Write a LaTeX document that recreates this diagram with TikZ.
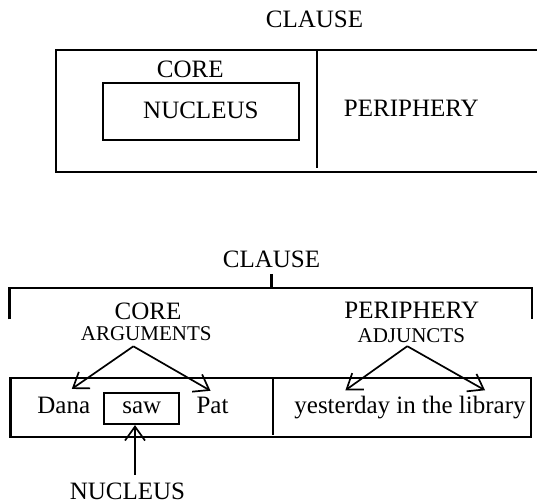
\documentclass[tikz,border=0pt]{standalone}
\usepackage{fontspec}
\setmainfont{Liberation Serif}
\usetikzlibrary{arrows.meta, positioning, calc}

\begin{document}
\begin{tikzpicture}[
    x=1pt, y=-1pt,
    lbl/.style={anchor=base, inner sep=3pt, font=\fontsize{25}{30}\selectfont},
    sublbl/.style={lbl, font=\fontsize{21}{25}\selectfont},
    frame/.style={draw=black, line width=2.2pt},
    link/.style={draw=black, line width=1.7pt, -{Straight Barb[length=14pt, width=20pt, line width=1.7pt]}}
]
    \useasboundingbox (0,0) rectangle (537,503);

    \node (clausetop) [lbl] at (314.5,28) {CLAUSE};
    \draw[frame] (545,50) -- (55.7,50) -- (55.7,172.3) -- (545,172.3);
    \draw[frame] (316.7,50) -- (316.7,168);
    \node (coretop) [lbl] at (190.3,77.3) {CORE};
    \node (nuctop) [lbl, frame, inner sep=0pt, minimum width=196.3pt, text height=35.6pt, text depth=21.7pt] at (200.85,118.3) {NUCLEUS};
    \node (peritop) [lbl] at (411.3,116) {PERIPHERY};

    \node (clause) [lbl] at (271.5,267.4) {CLAUSE};
    \coordinate (brleft) at (9.5,288.3);
    \coordinate (brright) at (531.7,288.3);
    \draw[frame] ([yshift=-3pt]clause.south) -- (clause.south |- brleft);
    \draw[frame] ($(brleft)+(0,31)$) -- (brleft) -- (brright) -- ($(brright)+(0,31)$);

    \node (core) [lbl] at (148,319.7) {CORE};
    \node (args) [sublbl] at (146.2,340.9) {ARGUMENTS};
    \node (peri) [lbl] at (411.8,318.5) {PERIPHERY};
    \node (adj) [sublbl] at (411.3,342.8) {ADJUNCTS};

    \draw[frame] (10.5,378.3) rectangle (530.7,437);
    \draw[frame] (272.7,378.3) -- (272.7,435);

    \node (dana) [lbl] at (63.8,413.3) {Dana};
    \node (saw) [lbl, frame, inner sep=0pt, minimum width=75pt, text height=20pt, text depth=10.7pt] at (141.8,413.3) {saw};
    \node (pat) [lbl] at (212.5,413.3) {Pat};
    \node (yest) [lbl] at (410,413.3) {yesterday in the library};
    \node (nucleus) [lbl, inner sep=1pt] at (127.5,499) {NUCLEUS};

    \draw[link] ([xshift=-12.8pt,yshift=-2pt]args.south) -- ([xshift=8pt,yshift=4.8pt]dana.north);
    \draw[link] ([xshift=-12.8pt,yshift=-2pt]args.south) -- ([xshift=-2pt,yshift=3pt]pat.north);
    \draw[link] ([xshift=-4pt]adj.south) -- ([xshift=-64.6pt,yshift=2.5pt]yest.north);
    \draw[link] ([xshift=-4pt]adj.south) -- ([xshift=75pt,yshift=2.5pt]yest.north);
    \draw[link] ([xshift=7.5pt,yshift=6.5pt]nucleus.north) -- ([xshift=-6.8pt]saw.south);
\end{tikzpicture}
\end{document}
